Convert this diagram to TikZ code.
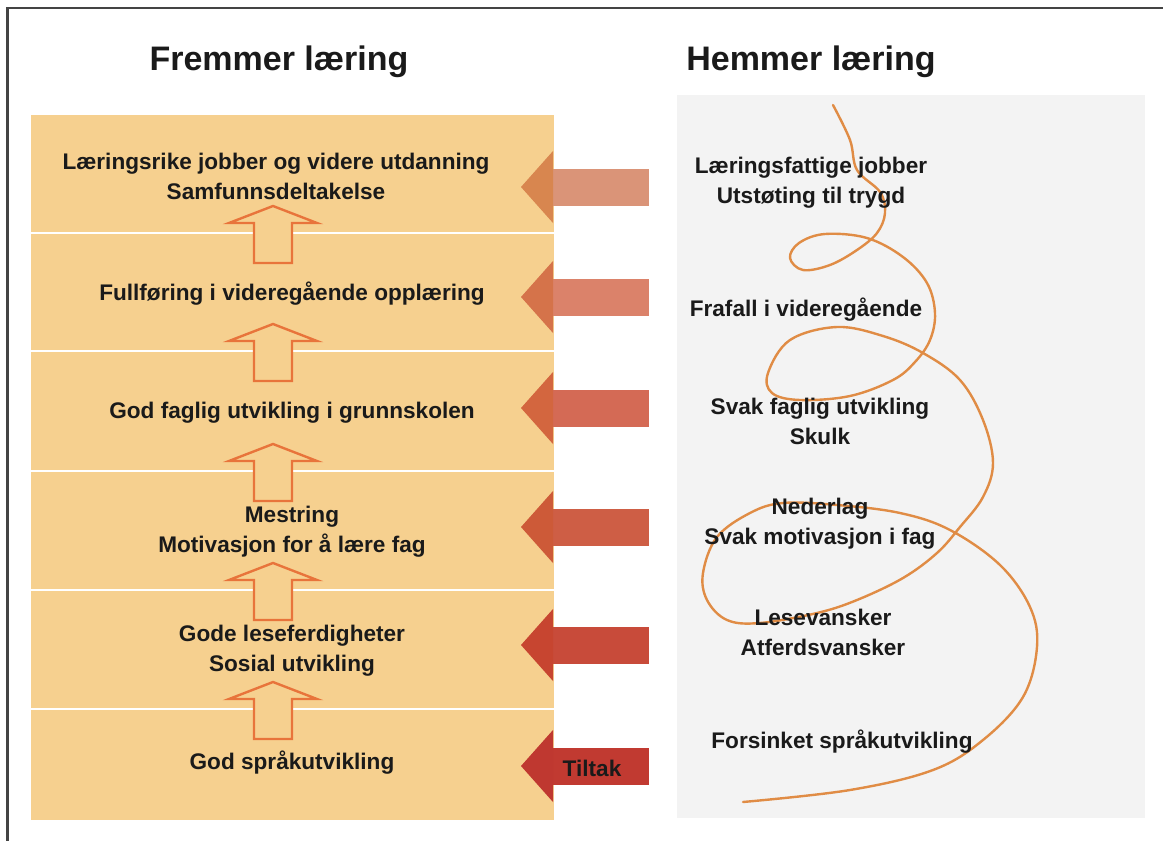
\documentclass[tikz,border=0pt]{standalone}
\usepackage{fontspec}
\setmainfont{Liberation Sans}
\definecolor{boxfill}{HTML}{F6D08F}
\definecolor{uparrowc}{HTML}{E8743B}
\definecolor{spiralc}{HTML}{E08C45}
\definecolor{bordc}{HTML}{444444}
\definecolor{panelc}{HTML}{F3F3F3}
\definecolor{txt}{HTML}{1A1A1A}
\definecolor{aAs}{HTML}{DA9478}\definecolor{aAh}{HTML}{D8864F}
\definecolor{aBs}{HTML}{DB826A}\definecolor{aBh}{HTML}{D5734A}
\definecolor{aCs}{HTML}{D46A55}\definecolor{aCh}{HTML}{D3663F}
\definecolor{aDs}{HTML}{CE5E45}\definecolor{aDh}{HTML}{CD5A38}
\definecolor{aEs}{HTML}{C84B3A}\definecolor{aEh}{HTML}{C74530}
\definecolor{aFs}{HTML}{C13A31}\definecolor{aFh}{HTML}{BF3830}
% big left-pointing arrow: #1 centre y, #2 shaft colour, #3 head colour
\newcommand\bigleftarrow[3]{%
  \fill[#2] (553,#1-18.5) rectangle (649,#1+18.5);
  \fill[#3] (521,#1) -- (553,#1-36) -- (553,#1+36) -- cycle;}
% hollow up arrow at separator y = #1
\newcommand\hollowup[1]{%
  \draw[upar] (273,#1-27) -- (317,#1-10) -- (292,#1-10) -- (292,#1+30)
     -- (254,#1+30) -- (254,#1-10) -- (229,#1-10) -- cycle;}
\begin{document}
\begin{tikzpicture}[x=1pt,y=-1pt,
  lbl/.style={font=\bfseries\fontsize{22.6}{30}\selectfont, align=center, text=txt, inner sep=0pt},
  ttl/.style={font=\bfseries\fontsize{34}{40}\selectfont, text=txt, inner sep=0pt},
  upar/.style={draw=uparrowc, line width=2.4pt, fill=boxfill, line join=miter},
  sepline/.style={draw=white, line width=2pt},
  spiral/.style={draw=spiralc, line width=2.4pt, line cap=round}]
\useasboundingbox (0,0) rectangle (1163,841);
\fill[white] (0,0) rectangle (1163,841);
\draw[bordc, line width=2.4pt] (7.5,850) -- (7.5,8) -- (1170,8);

% titles
\node[ttl] (tL) at (279,62) {Fremmer læring};
\node[ttl] (tR) at (811,62) {Hemmer læring};

% left column
\fill[boxfill] (31,115) rectangle (554,820);
\foreach \s in {233,351,471,590,709} \draw[sepline] (31,\s) -- (554,\s);
\foreach \s in {233,351,471,590,709} \hollowup{\s};

\node[lbl] (l1) at (276,176) {Læringsrike jobber og videre utdanning\\Samfunnsdeltakelse};
\node[lbl] (l2) at (292,294) {Fullføring i videregående opplæring};
\node[lbl] (l3) at (292,413) {God faglig utvikling i grunnskolen};
\node[lbl] (l4) at (292,532) {Mestring\\Motivasjon for å lære fag};
\node[lbl] (l5) at (292,651) {Gode leseferdigheter\\Sosial utvikling};
\node[lbl] (l6) at (292,763) {God språkutvikling};

% right panel
\fill[panelc] (677,95) rectangle (1145,818);
\draw[spiral] plot[smooth, tension=0.6] coordinates {
 (833,105) (850,140) (857,170) (880,192) (885,213) (877,233) (857,250) (830,265)
 (803,270) (790,258) (799,243) (825,234) (867,238) (903,257) (927,283) (935,313)
 (930,340) (915,362) (893,380) (850,396) (800,400) (772,393) (768,373) (790,340)
 (837,327) (883,336) (923,353) (960,380) (983,420) (993,463) (983,497) (960,527)
 (937,553) (903,578) (857,600) (817,613) (760,623) (727,620) (707,600) (703,573)
 (717,537) (750,513) (783,503) (837,505) (900,513) (950,530) (1000,565) (1030,607)
 (1037,647) (1023,697) (983,740) (933,770) (850,790) (743,802)};

\node[lbl] (r1) at (811,183) {Læringsfattige jobber\\Utstøting til trygd};
\node[lbl] (r2) at (806,310) {Frafall i videregående};
\node[lbl] (r3) at (820,421) {Svak faglig utvikling\\Skulk};
\node[lbl] (r4) at (820,524) {Nederlag\\Svak motivasjon i fag};
\node[lbl] (r5) at (823,632) {Lesevansker\\Atferdsvansker};
\node[lbl] (r6) at (842,742) {Forsinket språkutvikling};

% big arrows
\bigleftarrow{187}{aAs}{aAh}
\bigleftarrow{297}{aBs}{aBh}
\bigleftarrow{408}{aCs}{aCh}
\bigleftarrow{527}{aDs}{aDh}
\bigleftarrow{645}{aEs}{aEh}
\bigleftarrow{766}{aFs}{aFh}
\node[lbl] (tiltak) at (592,768) {Tiltak};
\end{tikzpicture}
\end{document}
